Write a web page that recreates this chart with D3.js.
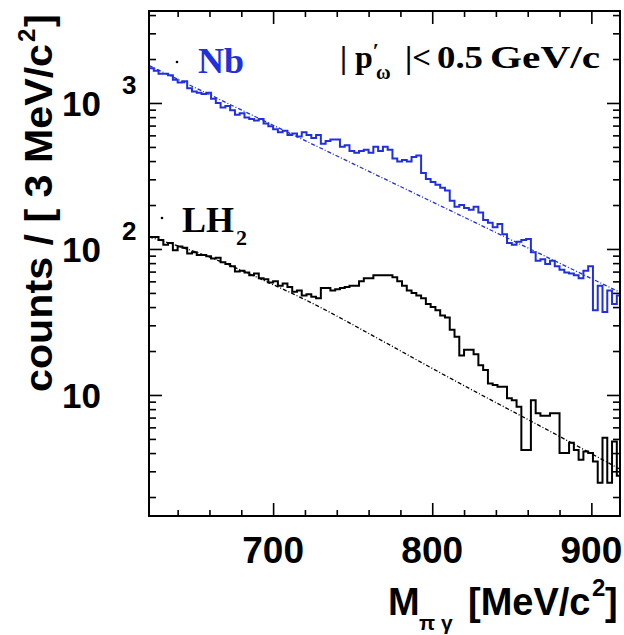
<!DOCTYPE html>
<html>
<head>
<meta charset="utf-8">
<script src="https://cdn.jsdelivr.net/npm/d3@7"></script>
<style>
  body { margin: 0; background: #fff; }
  svg { display: block; }
</style>
</head>
<body>
<svg id="chart" width="624" height="635"></svg>
<script>
// Invariant-mass spectra, 3 MeV/c^2 bins starting at 622 MeV/c^2
const binStart = 622;
const binWidth = 3;

// Nb target, counts per bin
const nbCounts = [
  1730, 1660, 1585, 1585, 1550, 1445, 1380, 1410, 1260,
  1200, 1175, 1150, 1175, 1070, 1000,
  933, 955, 891, 832, 851,
  794, 776, 759, 776, 724, 692,
  661, 631, 646, 603, 617,
  589, 631, 603, 575, 603,
  525, 550, 562, 562, 501, 513,
  468, 457, 468, 479, 457,
  501, 468, 501, 479,
  417, 398, 407, 398, 427,
  437, 331, 302,
  288, 275, 263, 251,
  214, 195, 200,
  191, 186, 195, 178,
  158, 151, 141,
  148, 126, 110,
  107, 112, 115, 117,
  95, 83, 85, 79, 83,
  76, 72, 69, 68, 66,
  63, 71,
  76, 38, 56, 37, 52, 42, 48
];

// LH2 target, counts per bin
const lh2Counts = [
  121, 121, 115, 107, 110, 98, 104, 102, 93, 95,
  91, 91, 89, 86, 87, 81, 79, 76, 70, 71,
  69, 66, 68, 63, 62, 59, 60, 56, 58, 55,
  51, 52, 48, 49, 47, 46, 54, 54, 52, 53,
  54, 55, 56, 56, 60, 63, 63, 66, 66, 66,
  66, 64, 60, 56, 52, 50, 48, 46, 42, 40,
  38, 35, 34, 28, 25, 18.6, 20.4, 20.4, 19, 16,
  14.8, 12, 11.7, 11.4, 11.4, 9.5, 9.2, 8.3, 4.2, 4.2,
  9.2, 7.5, 7.2, 7.2, 7.5, 7.5, 4.0, 4.0, 4.7, 4.2,
  3.6, 4.1, 4.0, 3.5, 2.5, 5.1, 2.5, 4.8, 2.8
];

// Background fits
const nbFitMass = [622, 918];
const nbFitCounts = [1807, 50.5];
const lh2FitMass = [622, 660, 700, 720, 767, 800, 888, 918];
const lh2FitCounts = [121, 88, 57, 45, 24, 15.2, 4.67, 3.1];

// Axis ticks
const xMajorTicks = [700, 800, 900];
const xMinorTicks = [640, 660, 680, 720, 740, 760, 780, 820, 840, 860, 880];
const yMajorTicks = [10, 100, 1000];
const yTickBase = ["10", "10", "10"];
const yTickExp = ["", "2", "3"];

const svg = d3.select("#chart");
const plotLeft = 149, plotRight = 620, plotTop = 11, plotBottom = 516;

const x = d3.scaleLinear().domain([622, 918]).range([plotLeft, plotRight]);
const y = d3.scaleLog().domain([Math.pow(10, 0.171), Math.pow(10, 3.63)]).range([plotBottom, plotTop]);

svg.append("rect").attr("width", 624).attr("height", 635).attr("fill", "#fff");

svg.append("clipPath").attr("id", "plotClip")
  .append("rect").attr("x", plotLeft).attr("y", plotTop)
  .attr("width", plotRight - plotLeft).attr("height", plotBottom - plotTop);

const plot = svg.append("g").attr("clip-path", "url(#plotClip)");

// step histogram from bin counts
function stepPoints(counts) {
  const pts = counts.map((c, i) => [binStart + i * binWidth, c]);
  pts.push([binStart + counts.length * binWidth, counts[counts.length - 1]]);
  return pts;
}
const stepLine = d3.line()
  .x(d => x(d[0])).y(d => y(d[1]))
  .curve(d3.curveStepAfter);

const fitLine = d3.line()
  .x(d => x(d[0])).y(d => y(d[1]))
  .curve(d3.curveMonotoneX);

const blue = "#2030e0";

plot.append("path")
  .attr("d", fitLine(nbFitMass.map((m, i) => [m, nbFitCounts[i]])))
  .attr("fill", "none").attr("stroke", blue).attr("stroke-width", 1.3)
  .attr("stroke-dasharray", "4 2 1 2");

plot.append("path")
  .attr("d", fitLine(lh2FitMass.map((m, i) => [m, lh2FitCounts[i]])))
  .attr("fill", "none").attr("stroke", "#000").attr("stroke-width", 1.3)
  .attr("stroke-dasharray", "4 2 1 2");

plot.append("path")
  .attr("d", stepLine(stepPoints(nbCounts)))
  .attr("fill", "none").attr("stroke", blue).attr("stroke-width", 2);

plot.append("path")
  .attr("d", stepLine(stepPoints(lh2Counts)))
  .attr("fill", "none").attr("stroke", "#000").attr("stroke-width", 2);

// inward ticks on all four sides
const yMinorTicks = [];
[1, 10, 100, 1000].forEach(dec => {
  for (let k = 2; k <= 9; k++) {
    const v = dec * k;
    if (v > y.domain()[0] && v < y.domain()[1]) yMinorTicks.push(v);
  }
});

function tickAxis(gen, transform, values, size) {
  const g = svg.append("g").attr("transform", transform)
    .call(gen.tickValues(values).tickSize(size).tickFormat(""));
  g.select(".domain").remove();
  g.selectAll("line").attr("stroke", "#000").attr("stroke-width", 1.6);
}
tickAxis(d3.axisBottom(x), `translate(0,${plotBottom})`, xMajorTicks, -13);
tickAxis(d3.axisBottom(x), `translate(0,${plotBottom})`, xMinorTicks, -6);
tickAxis(d3.axisTop(x), `translate(0,${plotTop})`, xMajorTicks, -13);
tickAxis(d3.axisTop(x), `translate(0,${plotTop})`, xMinorTicks, -6);
tickAxis(d3.axisLeft(y), `translate(${plotLeft},0)`, yMajorTicks, -13);
tickAxis(d3.axisLeft(y), `translate(${plotLeft},0)`, yMinorTicks, -7);
tickAxis(d3.axisRight(y), `translate(${plotRight},0)`, yMajorTicks, -13);
tickAxis(d3.axisRight(y), `translate(${plotRight},0)`, yMinorTicks, -7);

svg.append("rect")
  .attr("x", plotLeft).attr("y", plotTop)
  .attr("width", plotRight - plotLeft).attr("height", plotBottom - plotTop)
  .attr("fill", "none").attr("stroke", "#000").attr("stroke-width", 2);

const sans = "'Liberation Sans', Arial, sans-serif";
const serif = "'Liberation Serif', 'Times New Roman', serif";

// x tick labels
svg.selectAll(".xlab").data(xMajorTicks).enter().append("text")
  .attr("x", d => x(d)).attr("y", 563)
  .attr("text-anchor", "middle")
  .attr("font-family", sans).attr("font-weight", "bold").attr("font-size", 37)
  .text(d => d);

// y tick labels: base and exponent
yMajorTicks.forEach((v, i) => {
  svg.append("text")
    .attr("x", 101).attr("y", y(v) + 13)
    .attr("text-anchor", "end")
    .attr("font-family", sans).attr("font-weight", "bold").attr("font-size", 35)
    .text(yTickBase[i]);
  if (yTickExp[i]) {
    svg.append("text")
      .attr("x", 122).attr("y", y(v) - 9)
      .attr("font-family", sans).attr("font-weight", "bold").attr("font-size", 26)
      .text(yTickExp[i]);
  }
});

// x axis title
svg.append("text").attr("x", 388).attr("y", 615)
  .attr("font-family", sans).attr("font-weight", "bold").attr("font-size", 38)
  .text("M");
svg.append("text").attr("x", 419).attr("y", 630)
  .attr("font-family", sans).attr("font-weight", "bold").attr("font-size", 21)
  .attr("letter-spacing", 6)
  .text("πγ");
svg.append("text").attr("x", 468).attr("y", 615)
  .attr("font-family", sans).attr("font-weight", "bold").attr("font-size", 38)
  .text("[MeV/c");
svg.append("text").attr("x", 592).attr("y", 596)
  .attr("font-family", sans).attr("font-weight", "bold").attr("font-size", 24)
  .text("2");
svg.append("text").attr("x", 605).attr("y", 615)
  .attr("font-family", sans).attr("font-weight", "bold").attr("font-size", 38)
  .text("]");

// y axis title, rotated
const yt = svg.append("g").attr("transform", "translate(52,392) rotate(-90)");
yt.append("text").attr("x", 0).attr("y", 0)
  .attr("font-family", sans).attr("font-weight", "bold").attr("font-size", 38)
  .attr("textLength", 348).attr("lengthAdjust", "spacingAndGlyphs")
  .text("counts / [ 3 MeV/c");
yt.append("text").attr("x", 350).attr("y", -17)
  .attr("font-family", sans).attr("font-weight", "bold").attr("font-size", 24)
  .text("2");
yt.append("text").attr("x", 365).attr("y", 0)
  .attr("font-family", sans).attr("font-weight", "bold").attr("font-size", 38)
  .text("]");

// momentum cut label: |p'_ω| < 0.5 GeV/c
const cut = svg.append("g").attr("font-family", serif).attr("font-weight", "bold").attr("fill", "#000");
cut.append("text").attr("x", 340).attr("y", 68).attr("font-size", 32).text("|");
cut.append("text").attr("x", 355).attr("y", 68).attr("font-size", 32)
  .append("tspan").text("p")
  .select(function () { return this.parentNode; })
  .append("tspan").attr("font-size", 22).attr("dy", -10).text("′");
cut.append("text").attr("x", 376).attr("y", 79).attr("font-size", 20).text("ω");
cut.append("text").attr("x", 405).attr("y", 68).attr("font-size", 32)
  .attr("textLength", 26).attr("lengthAdjust", "spacingAndGlyphs").text("|<");
cut.append("text").attr("x", 437).attr("y", 68).attr("font-size", 32)
  .attr("textLength", 46).attr("lengthAdjust", "spacingAndGlyphs").text("0.5");
cut.append("text").attr("x", 490).attr("y", 68).attr("font-size", 32)
  .attr("textLength", 110).attr("lengthAdjust", "spacingAndGlyphs").text("GeV/c");

// target labels
svg.append("text").attr("x", 198).attr("y", 73)
  .attr("font-family", serif).attr("font-weight", "bold").attr("font-size", 36)
  .attr("fill", blue).text("Nb");
svg.append("text").attr("x", 182).attr("y", 232)
  .attr("font-family", serif).attr("font-weight", "bold").attr("font-size", 36)
  .text("LH");
svg.append("text").attr("x", 236).attr("y", 245)
  .attr("font-family", serif).attr("font-weight", "bold").attr("font-size", 22)
  .text("2");

svg.append("circle").attr("cx", 177).attr("cy", 62).attr("r", 1.3).attr("fill", "#000");
svg.append("circle").attr("cx", 162).attr("cy", 218).attr("r", 1.3).attr("fill", "#000");
</script>
</body>
</html>
